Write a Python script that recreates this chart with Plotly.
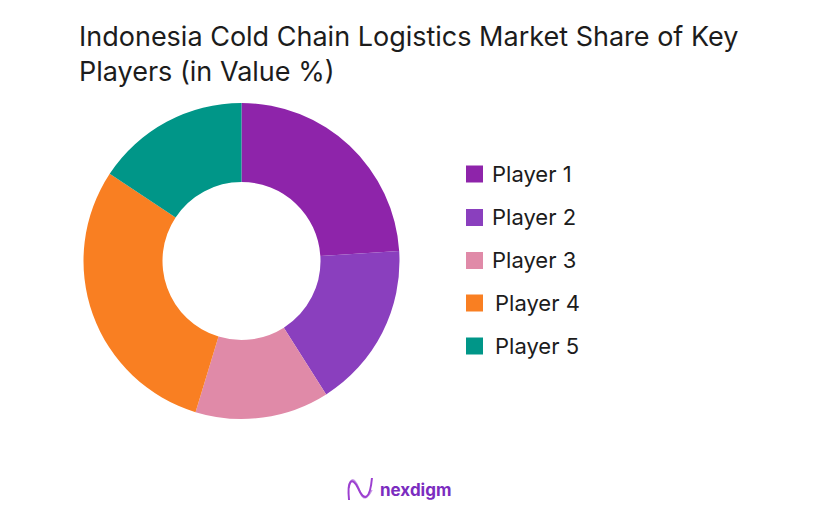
import plotly.graph_objects as go

players = ['Player 1', 'Player 2', 'Player 3', 'Player 4', 'Player 5']
shares = [24, 17, 13.7, 29.6, 15.7]
colors = ['#8E24AA', '#8A3FBE', '#E08AA8', '#F97F22', '#009688']

# the page keeps an 8px body margin, so the figure is smaller than the window
W, H = 819, 495
FONT = 'Inter'
TEXT = '#1c1c1c'

key_y = [174, 217.5, 260.5, 303, 346]
label_x = [489.5, 489.5, 489.5, 493, 493]


def px(x):
    return (x - 8) / W


def py(y):
    return 1 - (y - 8) / H


fig = go.Figure(go.Pie(
    labels=players,
    values=shares,
    hole=0.5,
    sort=False,
    direction='clockwise',
    rotation=0,
    marker=dict(colors=colors, line=dict(width=0)),
    textinfo='none',
    hoverinfo='label+percent',
    domain=dict(x=[px(83.5), px(399.5)], y=[py(419), py(103)]),
    showlegend=False,
))

shapes = []
annotations = [dict(
    text='Indonesia Cold Chain Logistics Market Share of Key<br>Players (in Value %)',
    x=px(77), y=py(18), xref='paper', yref='paper', xanchor='left', yanchor='top',
    align='left', showarrow=False,
    font=dict(family=FONT, size=27, color=TEXT),
)]

# legend drawn by hand, the entries are spaced wider than plotly's own legend
for name, color, y, x in zip(players, colors, key_y, label_x):
    shapes.append(dict(
        type='rect', xref='paper', yref='paper',
        x0=px(466), x1=px(483), y0=py(y - 8.5), y1=py(y + 8.5),
        fillcolor=color, line=dict(width=0),
    ))
    annotations.append(dict(
        text=name, x=px(x), y=py(y), xref='paper', yref='paper',
        xanchor='left', yanchor='middle', showarrow=False,
        font=dict(family=FONT, size=22, color=TEXT),
    ))

# logo
annotations.append(dict(
    text='<b>nexdigm</b>', x=px(378), y=py(490), xref='paper', yref='paper',
    xanchor='left', yanchor='middle', showarrow=False,
    font=dict(family=FONT, size=17, color='#7B2CBF'),
))
for path, col, lw in [
    ('M 349 488 C 351 474, 356 480, 360 492 C 364 504, 370 494, 372 490', '#C79AE6', 1.6),
    ('M 349 500 C 347 480, 352 476, 358 488 C 364 502, 370 500, 372 478', '#9C3FD0', 2),
]:
    pts = path.replace(',', ' ').split()
    out, is_x = [], True
    for p in pts:
        if p.isalpha():
            out.append(p)
            continue
        out.append(f'{px(float(p)):.4f}' if is_x else f'{py(float(p)):.4f}')
        is_x = not is_x
    shapes.append(dict(type='path', xref='paper', yref='paper', path=' '.join(out),
                       line=dict(color=col, width=lw)))

fig.update_layout(
    width=W, height=H,
    margin=dict(l=0, r=0, t=0, b=0),
    paper_bgcolor='white',
    shapes=shapes,
    annotations=annotations,
)

fig.write_html('out.html')
